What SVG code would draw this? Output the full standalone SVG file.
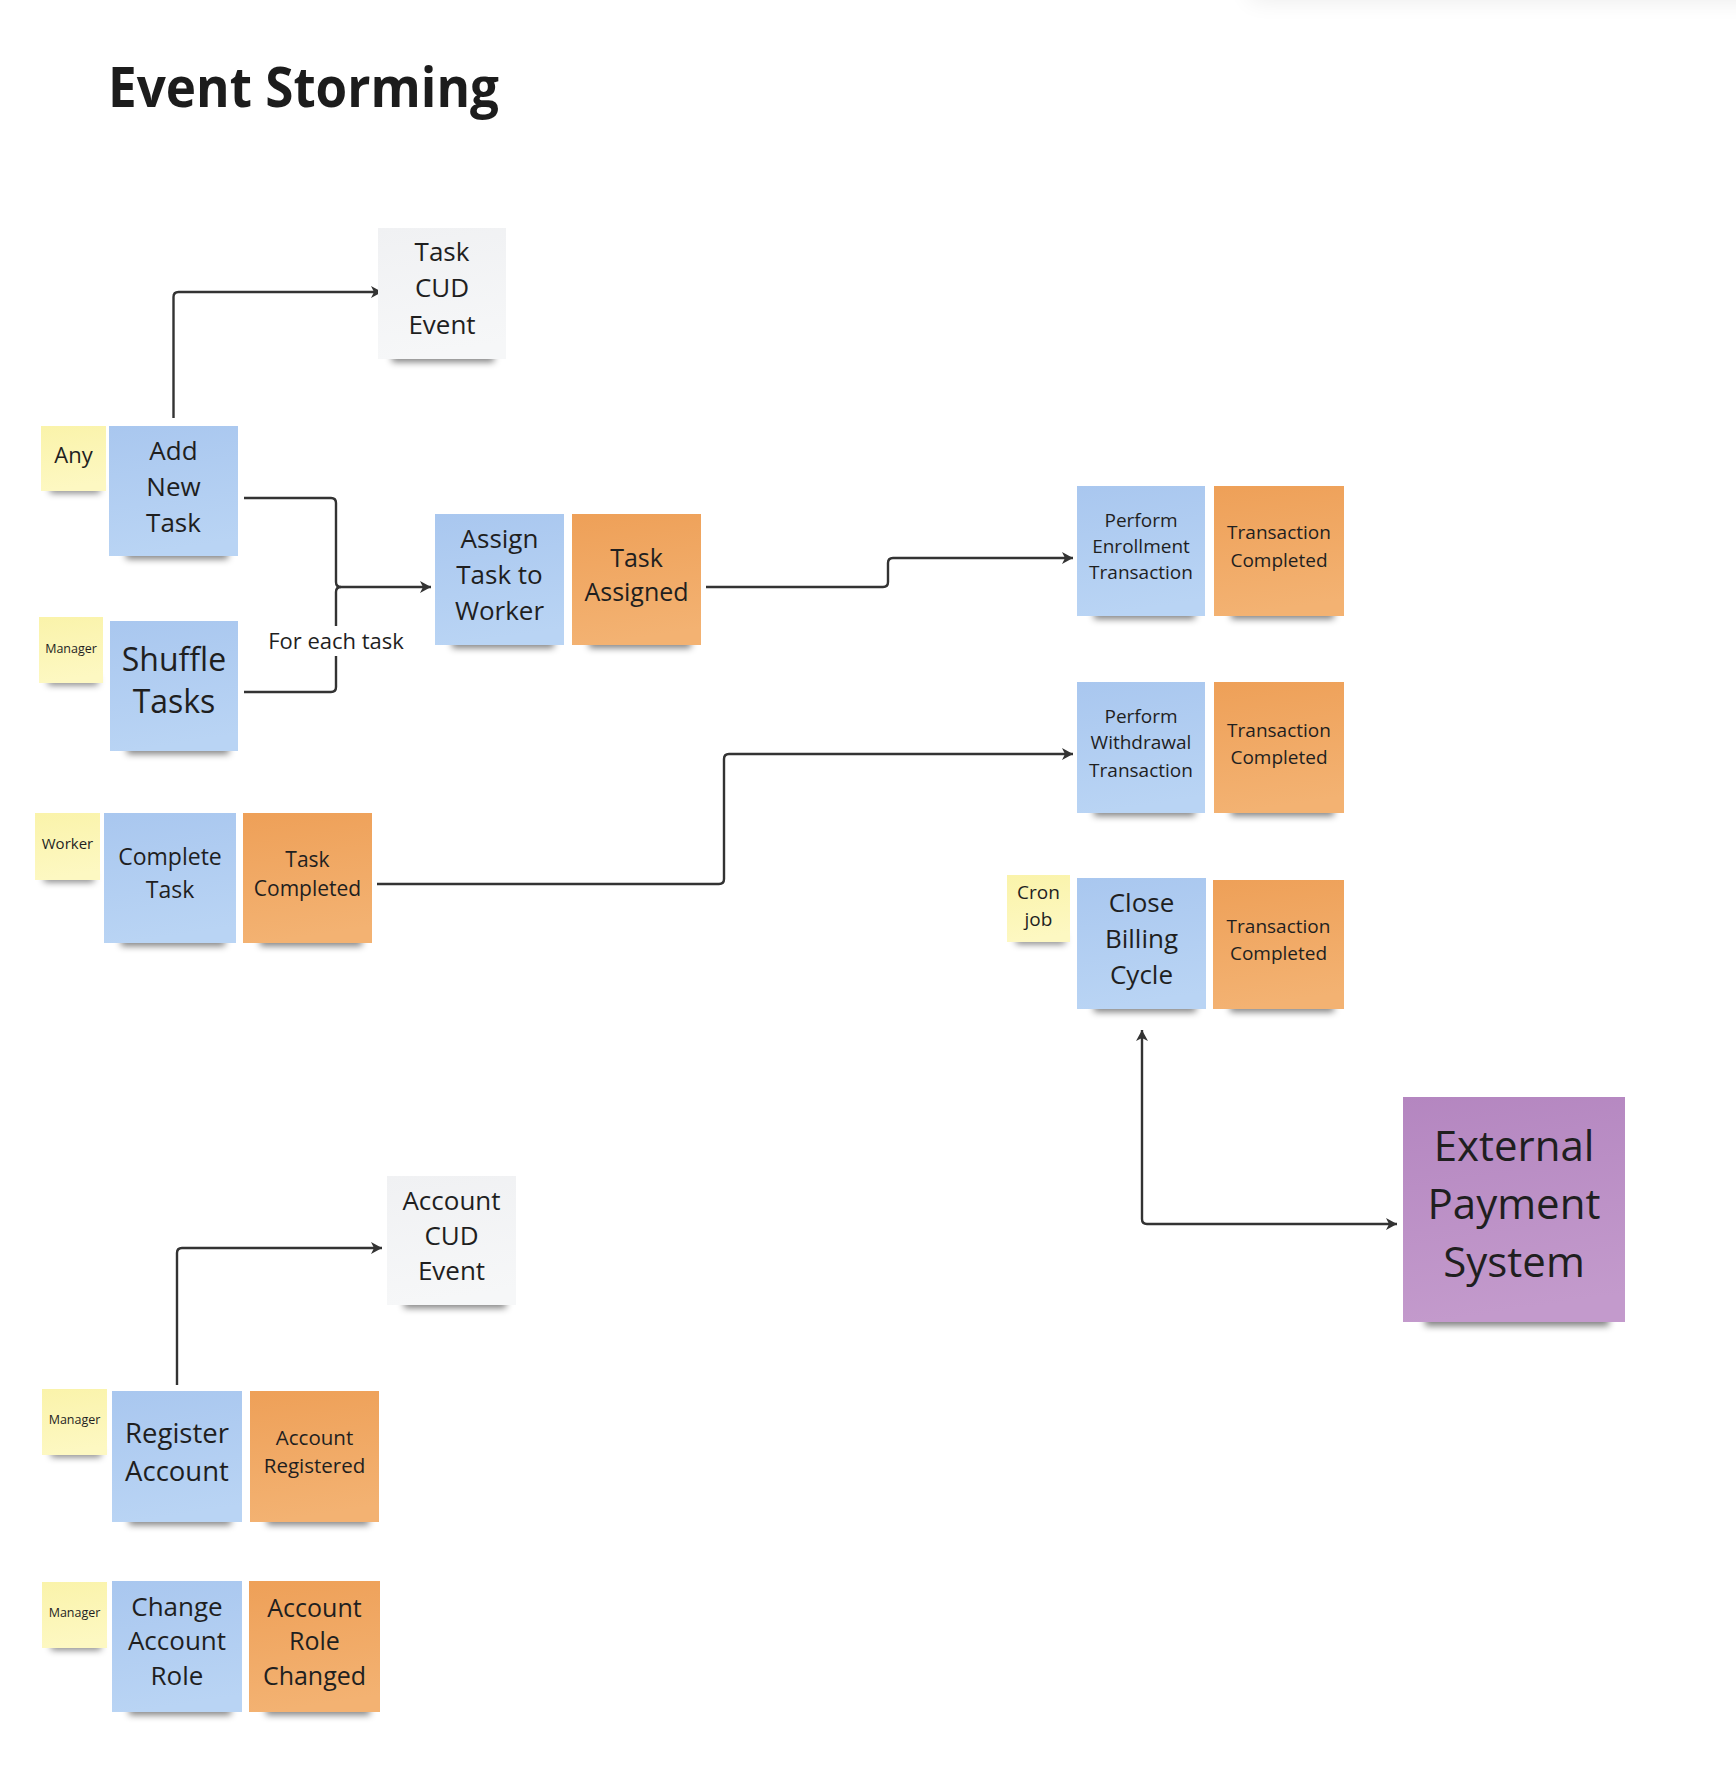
<svg xmlns="http://www.w3.org/2000/svg" width="1736" height="1780" viewBox="0 0 1736 1780">
<defs>
<style>
.t{font-family:"Open Sans","Noto Sans","Liberation Sans",sans-serif;fill:#1f1f1f;text-anchor:middle}
.title{font-family:"Open Sans","Noto Sans","Liberation Sans",sans-serif;font-weight:700;fill:#1c1c1c}
.sh{fill:#000;opacity:.5;filter:url(#blur)}
.conn{fill:none;stroke:#333;stroke-width:2.4;stroke-linejoin:round}
</style>
<filter id="blur" x="-20%" y="-150%" width="140%" height="400%"><feGaussianBlur stdDeviation="3.5"/></filter>
<filter id="blurBig" x="-20%" y="-200%" width="140%" height="500%"><feGaussianBlur stdDeviation="12"/></filter>
<linearGradient id="gb" x1="0" y1="0" x2="0.15" y2="1"><stop offset="0" stop-color="#a9c7ef"/><stop offset="1" stop-color="#b9d4f4"/></linearGradient>
<linearGradient id="go" x1="0" y1="0" x2="0.15" y2="1"><stop offset="0" stop-color="#eea058"/><stop offset="1" stop-color="#f3b272"/></linearGradient>
<linearGradient id="gy" x1="0" y1="0" x2="0.15" y2="1"><stop offset="0" stop-color="#faf3aa"/><stop offset="1" stop-color="#fdf8c2"/></linearGradient>
<linearGradient id="gg" x1="0" y1="0" x2="0.15" y2="1"><stop offset="0" stop-color="#f0f1f3"/><stop offset="1" stop-color="#f6f7f8"/></linearGradient>
<linearGradient id="gp" x1="0" y1="0" x2="0.15" y2="1"><stop offset="0" stop-color="#b486c0"/><stop offset="1" stop-color="#c39acc"/></linearGradient>
<marker id="arr" viewBox="0 0 12 13" refX="11.5" refY="6.5" markerWidth="12" markerHeight="13" markerUnits="userSpaceOnUse" orient="auto-start-reverse"><path d="M0.5,0.5 L11.5,6.5 L0.5,12.5 L3.5,6.5 z" fill="#333"/></marker>
</defs>
<rect width="1736" height="1780" fill="#ffffff"/>
<rect x="1250" y="-40" width="560" height="40" fill="#000" opacity=".08" filter="url(#blurBig)"/>
<text class="title" x="108" y="107" font-size="56" textLength="391" lengthAdjust="spacingAndGlyphs">Event Storming</text>

<g id="connectors">
<path class="conn" d="M173.5,418 V297 Q173.5,292 178.5,292 H382" marker-end="url(#arr)"/>
<path class="conn" d="M244,498 H331 Q336,498 336,503 V582 Q336,587 341,587 H431" marker-end="url(#arr)"/>
<path class="conn" d="M244,692 H331 Q336,692 336,687 V592 Q336,587 341,587"/>
<path class="conn" d="M706,587 H883 Q888,587 888,582 V563 Q888,558 893,558 H1073" marker-end="url(#arr)"/>
<path class="conn" d="M377,884 H719 Q724,884 724,879 V759 Q724,754 729,754 H1073" marker-end="url(#arr)"/>
<path class="conn" d="M1142,1030 V1219 Q1142,1224 1147,1224 H1397" marker-start="url(#arr)" marker-end="url(#arr)"/>
<path class="conn" d="M177,1385 V1253 Q177,1248 182,1248 H382" marker-end="url(#arr)"/>
<rect x="262" y="626" width="148" height="30" fill="#fff"/>
<text class="t" x="336" y="649" font-size="22" fill="#333">For each task</text>
</g>

<g id="task-cud-event">
<rect class="sh" x="392" y="352" width="102" height="10"/>
<rect x="378" y="228" width="128" height="131" fill="url(#gg)"/>
<text class="t" x="442" font-size="26"><tspan x="442" y="261">Task</tspan><tspan x="442" y="297">CUD</tspan><tspan x="442" y="334">Event</tspan></text>
</g>

<g id="actor-any">
<rect class="sh" x="50" y="485" width="50" height="8"/>
<rect x="41" y="426" width="65" height="65" fill="url(#gy)"/>
<text class="t" x="73.5" y="463" font-size="22">Any</text>
</g>

<g id="add-new-task">
<rect class="sh" x="126" y="549" width="102" height="10"/>
<rect x="109" y="426" width="129" height="130" fill="url(#gb)"/>
<text class="t" font-size="26"><tspan x="173.5" y="460">Add</tspan><tspan x="173.5" y="496">New</tspan><tspan x="173.5" y="532">Task</tspan></text>
</g>

<g id="actor-manager-1">
<rect class="sh" x="48" y="677" width="50" height="8"/>
<rect x="39" y="617" width="64" height="66" fill="url(#gy)"/>
<text class="t" x="71" y="652.5" font-size="12.5">Manager</text>
</g>

<g id="shuffle-tasks">
<rect class="sh" x="127" y="744" width="102" height="10"/>
<rect x="110" y="621" width="128" height="130" fill="url(#gb)"/>
<text class="t" font-size="32"><tspan x="174" y="670.5">Shuffle</tspan><tspan x="174" y="712.5">Tasks</tspan></text>
</g>

<g id="actor-worker">
<rect class="sh" x="44" y="874" width="50" height="8"/>
<rect x="35" y="813" width="65" height="67" fill="url(#gy)"/>
<text class="t" x="67.5" y="848.5" font-size="15">Worker</text>
</g>

<g id="complete-task">
<rect class="sh" x="121" y="936" width="104" height="10"/>
<rect x="104" y="813" width="132" height="130" fill="url(#gb)"/>
<text class="t" font-size="23"><tspan x="170" y="865">Complete</tspan><tspan x="170" y="898">Task</tspan></text>
</g>

<g id="task-completed">
<rect class="sh" x="260" y="936" width="102" height="10"/>
<rect x="243" y="813" width="129" height="130" fill="url(#go)"/>
<text class="t" font-size="21"><tspan x="307.5" y="866.5">Task</tspan><tspan x="307.5" y="895.5">Completed</tspan></text>
</g>

<g id="assign-task-to-worker">
<rect class="sh" x="452" y="638" width="102" height="10"/>
<rect x="435" y="514" width="129" height="131" fill="url(#gb)"/>
<text class="t" font-size="26"><tspan x="499.5" y="548">Assign</tspan><tspan x="499.5" y="584">Task to</tspan><tspan x="499.5" y="620">Worker</tspan></text>
</g>

<g id="task-assigned">
<rect class="sh" x="589" y="638" width="102" height="10"/>
<rect x="572" y="514" width="129" height="131" fill="url(#go)"/>
<text class="t" font-size="25"><tspan x="636.5" y="567">Task</tspan><tspan x="636.5" y="601">Assigned</tspan></text>
</g>

<g id="perform-enrollment-transaction">
<rect class="sh" x="1094" y="609" width="101" height="10"/>
<rect x="1077" y="486" width="128" height="130" fill="url(#gb)"/>
<text class="t" font-size="19"><tspan x="1141" y="527">Perform</tspan><tspan x="1141" y="553">Enrollment</tspan><tspan x="1141" y="579">Transaction</tspan></text>
</g>

<g id="transaction-completed-1">
<rect class="sh" x="1231" y="609" width="103" height="10"/>
<rect x="1214" y="486" width="130" height="130" fill="url(#go)"/>
<text class="t" font-size="19"><tspan x="1279" y="539">Transaction</tspan><tspan x="1279" y="567">Completed</tspan></text>
</g>

<g id="perform-withdrawal-transaction">
<rect class="sh" x="1094" y="806" width="101" height="10"/>
<rect x="1077" y="682" width="128" height="131" fill="url(#gb)"/>
<text class="t" font-size="19"><tspan x="1141" y="723">Perform</tspan><tspan x="1141" y="749">Withdrawal</tspan><tspan x="1141" y="777">Transaction</tspan></text>
</g>

<g id="transaction-completed-2">
<rect class="sh" x="1231" y="806" width="103" height="10"/>
<rect x="1214" y="682" width="130" height="131" fill="url(#go)"/>
<text class="t" font-size="19"><tspan x="1279" y="737">Transaction</tspan><tspan x="1279" y="764">Completed</tspan></text>
</g>

<g id="actor-cron-job">
<rect class="sh" x="1016" y="936" width="49" height="8"/>
<rect x="1007" y="875" width="63" height="67" fill="url(#gy)"/>
<text class="t" font-size="19"><tspan x="1038.5" y="899">Cron</tspan><tspan x="1038.5" y="926">job</tspan></text>
</g>

<g id="close-billing-cycle">
<rect class="sh" x="1094" y="1002" width="102" height="10"/>
<rect x="1077" y="878" width="129" height="131" fill="url(#gb)"/>
<text class="t" font-size="26"><tspan x="1141.5" y="912">Close</tspan><tspan x="1141.5" y="948">Billing</tspan><tspan x="1141.5" y="984">Cycle</tspan></text>
</g>

<g id="transaction-completed-3">
<rect class="sh" x="1230" y="1002" width="104" height="10"/>
<rect x="1213" y="880" width="131" height="129" fill="url(#go)"/>
<text class="t" font-size="19"><tspan x="1278.5" y="933">Transaction</tspan><tspan x="1278.5" y="960">Completed</tspan></text>
</g>

<g id="external-payment-system">
<rect class="sh" x="1425" y="1313" width="184" height="13"/>
<rect x="1403" y="1097" width="222" height="225" fill="url(#gp)"/>
<text class="t" font-size="42"><tspan x="1514" y="1161">External</tspan><tspan x="1514" y="1219">Payment</tspan><tspan x="1514" y="1277">System</tspan></text>
</g>

<g id="account-cud-event">
<rect class="sh" x="404" y="1298" width="102" height="10"/>
<rect x="387" y="1176" width="129" height="129" fill="url(#gg)"/>
<text class="t" font-size="26"><tspan x="451.5" y="1210">Account</tspan><tspan x="451.5" y="1245">CUD</tspan><tspan x="451.5" y="1280">Event</tspan></text>
</g>

<g id="actor-manager-2">
<rect class="sh" x="51" y="1449" width="50" height="8"/>
<rect x="42" y="1389" width="65" height="66" fill="url(#gy)"/>
<text class="t" x="74.5" y="1423.5" font-size="12.5">Manager</text>
</g>

<g id="register-account">
<rect class="sh" x="129" y="1515" width="102" height="10"/>
<rect x="112" y="1391" width="130" height="131" fill="url(#gb)"/>
<text class="t" font-size="27.5"><tspan x="177" y="1443">Register</tspan><tspan x="177" y="1481">Account</tspan></text>
</g>

<g id="account-registered">
<rect class="sh" x="267" y="1515" width="102" height="10"/>
<rect x="250" y="1391" width="129" height="131" fill="url(#go)"/>
<text class="t" font-size="20.5"><tspan x="314.5" y="1445">Account</tspan><tspan x="314.5" y="1473">Registered</tspan></text>
</g>

<g id="actor-manager-3">
<rect class="sh" x="51" y="1642" width="50" height="8"/>
<rect x="42" y="1582" width="65" height="66" fill="url(#gy)"/>
<text class="t" x="74.5" y="1616.5" font-size="12.5">Manager</text>
</g>

<g id="change-account-role">
<rect class="sh" x="129" y="1705" width="102" height="10"/>
<rect x="112" y="1581" width="130" height="131" fill="url(#gb)"/>
<text class="t" font-size="26"><tspan x="177" y="1616">Change</tspan><tspan x="177" y="1650">Account</tspan><tspan x="177" y="1685">Role</tspan></text>
</g>

<g id="account-role-changed">
<rect class="sh" x="266" y="1705" width="104" height="10"/>
<rect x="249" y="1581" width="131" height="131" fill="url(#go)"/>
<text class="t" font-size="25"><tspan x="314.5" y="1617">Account</tspan><tspan x="314.5" y="1650">Role</tspan><tspan x="314.5" y="1685">Changed</tspan></text>
</g>
</svg>
